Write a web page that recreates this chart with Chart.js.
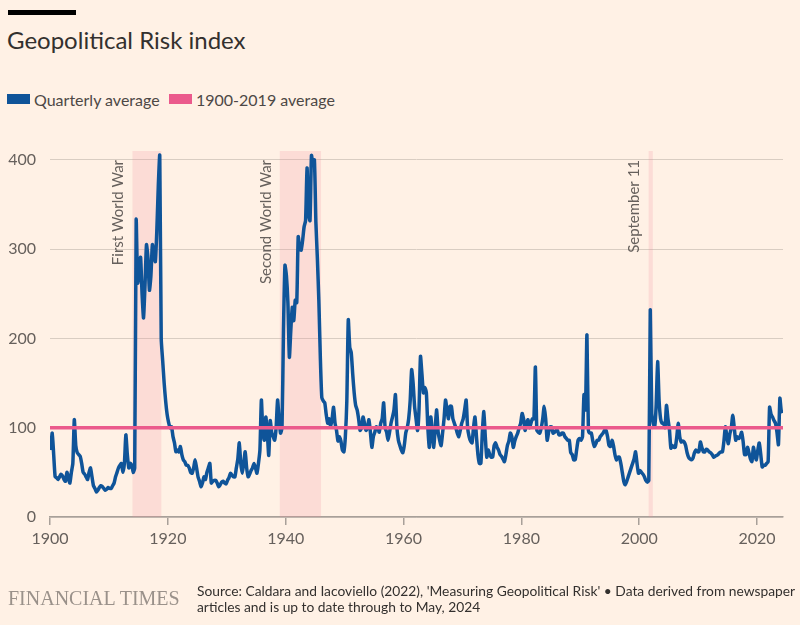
<!DOCTYPE html>
<html>
<head>
<meta charset="utf-8">
<script src="https://cdn.jsdelivr.net/npm/chart.js@4"></script>
<style>
  body { margin: 0; background: #fff1e5; }
  #page { position: relative; width: 800px; height: 625px; overflow: hidden; background: #fff1e5; font-family: Lato, sans-serif; color: #33302e; }
  #bar { position: absolute; left: 8px; top: 10px; width: 68px; height: 5px; background: #000; }
  #title { position: absolute; left: 7px; top: 28px; font-size: 24px; line-height: 24px; white-space: nowrap; }
  .swatch { position: absolute; top: 94px; width: 23px; height: 10px; }
  .legtext { position: absolute; top: 92px; font-size: 16px; line-height: 16px; white-space: nowrap; color: #4d4845; }
  #ft { position: absolute; left: 8px; top: 588px; font-family: "Liberation Serif", serif; font-size: 20px; line-height: 20px; color: #9a918a; white-space: nowrap; }
  #source { position: absolute; left: 197px; top: 583px; font-size: 13.8px; line-height: 16px; white-space: nowrap; color: #33302e; }
  canvas { position: absolute; left: 0; top: 0; }
</style>
</head>
<body>
<div id="page">
  <div id="bar"></div>
  <div id="title">Geopolitical Risk index</div>
  <div class="swatch" style="left:7px;background:#0f5499"></div>
  <div class="legtext" style="left:34px">Quarterly average</div>
  <div class="swatch" style="left:169px;background:#eb5a8c"></div>
  <div class="legtext" style="left:196px">1900-2019 average</div>
  <canvas id="chart" width="800" height="625"></canvas>
  <div id="ft">FINANCIAL TIMES</div>
  <div id="source">Source: Caldara and Iacoviello (2022), 'Measuring Geopolitical Risk' • Data derived from newspaper<br>articles and is up to date through to May, 2024</div>
</div>
<script>
// Geopolitical risk index, quarterly averages, one row per year (Q1..Q4)
const gpr1900s = [75,94,70,45, 44,42,45,48, 46,42,40,50, 44,38,50,60, 109,80,72,70, 68,60,50,48, 45,42,50,55, 45,35,32,28, 30,33,35,34, 32,30,31,33];
const gpr1910s = [32,32,35,38, 45,50,55,58, 60,50,60,92, 70,55,60,58, 50,55,333,262, 270,291,250,223, 260,305,290,254, 270,305,295,286, 320,370,405,200, 175,150,130,115];
const gpr1920s = [106,100,101,90, 83,73,75,73, 79,70,64,62, 58,58,55,50, 49,55,64,55, 45,40,34,38, 45,42,50,55, 60,38,40,41, 41,38,34,36, 39,40,38,37];
const gpr1930s = [41,44,49,47, 45,45,55,65, 83,60,49,60, 73,55,45,48, 52,55,60,55, 49,60,75,131, 95,86,112,95, 69,108,95,90, 86,100,131,110, 94,100,210,282];
const gpr1940s = [270,240,179,210, 235,220,243,240, 314,300,299,310, 325,332,391,340, 332,405,395,400, 330,290,243,180, 134,130,128,115, 105,110,101,110, 123,105,97,85, 90,85,75,73];
const gpr1950s = [90,130,221,190, 184,160,139,125, 120,110,97,100, 112,105,97,100, 109,95,78,90, 95,101,100,95, 105,110,128,100, 95,86,95,105, 112,120,137,100, 86,80,75,72];
const gpr1960s = [80,94,100,110, 130,165,150,124, 110,97,120,180, 160,139,145,139, 100,78,112,95, 78,100,120,95, 86,80,94,110, 131,120,110,124, 124,110,105,100, 94,90,97,105];
const gpr1970s = [110,120,131,100, 90,85,83,100, 112,90,70,60, 60,95,118,90, 67,75,70,67, 67,80,83,78, 75,70,68,65, 62,70,80,85, 94,90,78,85, 90,94,100,105];
const gpr1980s = [116,110,97,105, 109,100,105,110, 110,168,97,95, 94,100,110,124, 110,86,95,101, 101,94,95,97, 97,92,92,94, 94,90,88,86, 86,72,70,64, 64,75,86,88];
const gpr1990s = [86,90,137,120, 204,97,94,94, 85,79,82,86, 86,90,92,94, 97,97,90,80, 79,86,80,70, 64,67,67,60, 50,40,36,40, 45,50,55,60, 65,73,60,49];
const gpr2000s = [52,50,48,45, 41,39,41,232, 116,105,101,125, 174,130,110,105, 105,100,125,110, 98,77,80,78, 78,90,105,90, 84,85,84,80, 72,67,65,64, 66,72,75,73];
const gpr2010s = [73,84,78,73, 73,76,75,73, 72,70,67,68, 69,70,72,73, 73,85,101,90, 82,93,100,114, 100,86,90,88, 90,95,85,70, 70,78,72,65, 62,78,70,64];
const gpr2020s = [75,83,70,56, 58,58,60,62, 123,115,112,108, 105,95,81,133, 118,120];

const firstYear = 1900;
const lastYear = 2024.4;

// long-run average (by construction = 100)
const avgYears = [1900, 2024.4];
const avgValues = [100, 100];

// shaded events
const eventNames = ['First World War', 'Second World War', 'September 11'];
const eventStart = [1914, 1939, 2001.6];
const eventEnd = [1918.9, 1946, 2002.3];

const xTicks = [1900, 1920, 1940, 1960, 1980, 2000, 2020];
const yTicks = [0, 100, 200, 300, 400];

const quarterly = [].concat(gpr1900s, gpr1910s, gpr1920s, gpr1930s, gpr1940s, gpr1950s,
  gpr1960s, gpr1970s, gpr1980s, gpr1990s, gpr2000s, gpr2010s, gpr2020s);
const quarterlyPoints = quarterly.map((v, i) => ({ x: firstYear + i / 4 + 0.125, y: v }));

// pink bands + rotated labels
const eventBands = {
  id: 'eventBands',
  beforeDatasetsDraw(chart) {
    const { ctx, chartArea, scales } = chart;
    ctx.save();
    ctx.fillStyle = 'rgba(242,141,154,0.2)';
    for (let i = 0; i < eventNames.length; i++) {
      const x0 = scales.x.getPixelForValue(eventStart[i]);
      const x1 = scales.x.getPixelForValue(eventEnd[i]);
      ctx.fillRect(x0, chartArea.top, x1 - x0, chartArea.bottom - chartArea.top);
    }
    ctx.fillStyle = '#66605c';
    ctx.font = '15px Lato, sans-serif';
    ctx.textAlign = 'right';
    ctx.textBaseline = 'middle';
    for (let i = 0; i < eventNames.length; i++) {
      const x0 = scales.x.getPixelForValue(eventStart[i]);
      ctx.save();
      ctx.translate(x0 - 14, scales.y.getPixelForValue(400));
      ctx.rotate(-Math.PI / 2);
      ctx.fillText(eventNames[i], 0, 0);
      ctx.restore();
    }
    ctx.restore();
  }
};

const chartCtx = document.getElementById('chart').getContext('2d');
const gprChart = new Chart(chartCtx, {
  type: 'line',
  data: {
    datasets: [
      {
        label: '1900-2019 average',
        data: avgYears.map((x, i) => ({ x: x, y: avgValues[i] })),
        borderColor: '#eb5a8c',
        borderWidth: 3.5,
        pointRadius: 0
      },
      {
        label: 'Quarterly average',
        data: quarterlyPoints,
        borderColor: '#0f5499',
        borderWidth: 3.5,
        borderJoinStyle: 'round',
        pointRadius: 0,
        tension: 0.2
      }
    ]
  },
  options: {
    responsive: false,
    animation: false,
    layout: { padding: { top: 151, right: 17, left: 0, bottom: 0 } },
    plugins: {
      legend: { display: false },
      tooltip: { enabled: false }
    },
    scales: {
      x: {
        type: 'linear',
        min: firstYear,
        max: lastYear,
        afterFit: s => { s.height = 108; },
        afterBuildTicks: s => { s.ticks = xTicks.map(v => ({ value: v })); },
        grid: { drawOnChartArea: false, drawTicks: true, tickLength: 8, tickColor: '#a8a099', lineWidth: 1.5 },
        border: { color: '#a8a099', width: 1.5 },
        ticks: {
          padding: 4,
          color: '#66605c',
          font: { family: 'Lato', size: 16 },
          maxRotation: 0,
          callback: v => String(v)
        }
      },
      y: {
        min: 0,
        max: 410,
        afterFit: s => { s.width = 50; },
        afterBuildTicks: s => { s.ticks = yTicks.map(v => ({ value: v })); },
        grid: { color: '#d9cdc2', lineWidth: 1, drawTicks: false },
        border: { display: false },
        ticks: {
          padding: 14,
          color: '#66605c',
          font: { family: 'Lato', size: 16 },
          callback: v => String(v)
        }
      }
    }
  },
  plugins: [eventBands]
});
</script>
</body>
</html>
